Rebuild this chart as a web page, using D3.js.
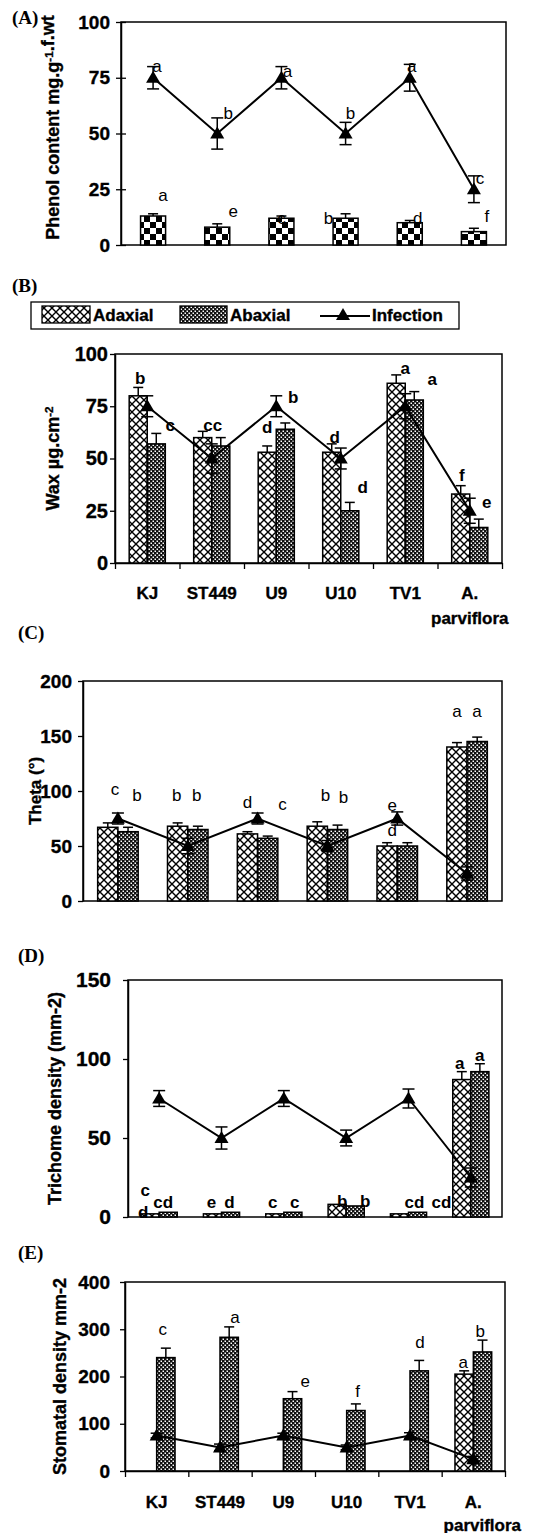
<!DOCTYPE html>
<html><head><meta charset="utf-8">
<script src="https://cdn.jsdelivr.net/npm/d3@7"></script>
<style>
html,body{margin:0;padding:0;background:#fff;}
svg{display:block;}
text.hv{stroke:#000;stroke-width:0.35px;}
</style></head>
<body>
<script>
// ---------- DATA ----------
const categories = ["KJ","ST449","U9","U10","TV1","A. parviflora"];
const infection    = [75,50,75,50,75,25];
const infectionErr = [5,7,5,5,6,6];

const phenol    = [13,8,12,12,10,6];
const phenolErr = [1,1.5,1,2,1,1.5];

const waxAdaxial    = [80,60,53,53,86,33];
const waxAdaxialErr = [4,3,3,4,4,4];
const waxAbaxial    = [57,56,64,25,78,17];
const waxAbaxialErr = [5,4,3,4,4,4];

const thetaAdaxial    = [67,68,61,68,50,140];
const thetaAdaxialErr = [4,3,2,4,3,4];
const thetaAbaxial    = [63,65,57,65,50,145];
const thetaAbaxialErr = [4,3,2,4,3,4];

const trichAdaxial    = [2,2,2,8,2,87];
const trichAdaxialErr = [0,0,0,0,0,5];
const trichAbaxial    = [3,3,3,7,3,92];
const trichAbaxialErr = [0,0,0,0,0,5];

const stomAdaxial    = [null,null,null,null,null,205];
const stomAdaxialErr = [0,0,0,0,0,7];
const stomAbaxial    = [240,283,153,128,212,252];
const stomAbaxialErr = [20,22,15,14,22,25];

const ticksA = [0,25,50,75,100];
const ticksB = [0,25,50,75,100];
const ticksC = [0,50,100,150,200];
const ticksD = [0,50,100,150];
const ticksE = [0,100,200,300,400];

// significance letters
const lettersA_bar  = ["a","e","c","b","d","f"];
const lettersA_bar_at = [22,15,12,12,12,13];
const lettersA_inf  = ["a","b","a","b","a","c"];
const lettersA_inf_at = [80,59,78,59,80,30];

const lettersB_ad = ["b","cc","d","d","a","f"];
const lettersB_ad_at = [88.5,66,65,60,93,42];
const lettersB_ab = ["c","","b","d","a","e"];
const lettersB_ab_at = [66,0,79,36,88,29];

const lettersC_ad = ["c","b","d","b","d","a"];
const lettersC_ad_at = [101,96,90,96,64,172];
const lettersC_ab = ["b","b","c","b","e","a"];
const lettersC_ab_at = [96,96,88,94,87,172];

const lettersD_ad = ["c","e","c","b","cd","a"];
const lettersD_ad_at = [17,9,9,10,9,97];
const lettersD_ad2 = ["d","","","","",""];
const lettersD_ad2_at = [3,0,0,0,0,0];
const lettersD_ab = ["cd","d","c","b","cd","a"];
const lettersD_ab_at = [9,9,9,10,9,102];

const lettersE_ad = ["","","","","","a"];
const lettersE_ad_at = [0,0,0,0,0,230];
const lettersE_ab = ["c","a","e","f","d","b"];
const lettersE_ab_at = [300,325,190,168,273,295];

// ---------- DRAW ----------
const W = 536, H = 1533;
const svg = d3.select("body").append("svg").attr("width",W).attr("height",H)
  .style("font-family","'Liberation Sans', Arial, sans-serif");
svg.append("rect").attr("width",W).attr("height",H).attr("fill","#fff");

const defs = svg.append("defs");
const pAd = defs.append("pattern").attr("id","adax").attr("patternUnits","userSpaceOnUse")
  .attr("width",8).attr("height",8);
pAd.append("rect").attr("width",8).attr("height",8).attr("fill","#fff");
pAd.append("path").attr("d","M0,0L8,8M8,0L0,8").attr("stroke","#000").attr("stroke-width",1.4);
const pAb = defs.append("pattern").attr("id","abax").attr("patternUnits","userSpaceOnUse")
  .attr("width",4).attr("height",4);
pAb.append("rect").attr("width",4).attr("height",4).attr("fill","#111");
pAb.append("rect").attr("x",0.5).attr("y",0.5).attr("width",1.5).attr("height",1.5).attr("fill","#fff");
pAb.append("rect").attr("x",2.5).attr("y",2.5).attr("width",1.5).attr("height",1.5).attr("fill","#fff");
const pPh = defs.append("pattern").attr("id","phen").attr("patternUnits","userSpaceOnUse")
  .attr("width",12).attr("height",12);
pPh.append("rect").attr("width",12).attr("height",12).attr("fill","#fff");
pPh.append("rect").attr("width",6).attr("height",6).attr("fill","#000");
pPh.append("rect").attr("x",6).attr("y",6).attr("width",6).attr("height",6).attr("fill","#000");

const tri = d3.symbol(d3.symbolTriangle).size(85);

function panel(cfg){
  const g = svg.append("g");
  const x = d3.scaleBand().domain(categories).range([cfg.x0,cfg.x1])
    .paddingInner(cfg.pad).paddingOuter(cfg.pad/2);
  const y = d3.scaleLinear().domain([0,cfg.max]).range([cfg.yBot,cfg.yTop]);
  const names = cfg.series.map(s=>s.name);
  const xs = d3.scaleBand().domain(names).range([0,x.bandwidth()]);
  const cx = c => x(c) + x.bandwidth()/2;

  // frame
  g.append("rect").attr("x",cfg.x0).attr("y",cfg.yTop)
    .attr("width",cfg.x1-cfg.x0).attr("height",cfg.yBot-cfg.yTop)
    .attr("fill","none").attr("stroke","#000").attr("stroke-width",1.5);

  // y axis
  const ya = g.append("g").attr("transform",`translate(${cfg.x0},0)`)
    .call(d3.axisLeft(y).tickValues(cfg.ticks).tickSizeOuter(0).tickSizeInner(5).tickPadding(cfg.gap-5));
  ya.select(".domain").attr("stroke-width",1.5);
  ya.selectAll(".tick line").attr("stroke-width",1.3).attr("x2",-5).attr("x1",cfg.cross?5:0);
  ya.selectAll(".tick text").attr("font-size",cfg.tickFont).attr("font-weight","bold").attr("class","hv")
    .attr("fill","#000").attr("font-family","'Liberation Sans', Arial, sans-serif");

  // x axis (boundary ticks)
  if(cfg.xTicks){
    const xb = d3.scaleLinear().domain([0,categories.length]).range([cfg.x0,cfg.x1]);
    const xa = g.append("g").attr("transform",`translate(0,${cfg.yBot})`)
      .call(d3.axisBottom(xb).ticks(categories.length).tickFormat("").tickSizeOuter(0).tickSizeInner(6));
    xa.select(".domain").attr("stroke-width",1.5);
    xa.selectAll(".tick line").attr("stroke-width",1.3);
  }
  if(cfg.catLabels){
    categories.forEach(c=>{
      const parts = c.split(" ");
      g.append("text").attr("class","hv").attr("x",cx(c)).attr("y",cfg.catY).attr("text-anchor","middle")
        .attr("font-size",17).attr("font-weight","bold").attr("dominant-baseline","central").text(parts[0]);
      if(parts[1]) g.append("text").attr("class","hv").attr("x",cx(c)+cfg.parvDx).attr("y",cfg.catY+cfg.parvDy).attr("text-anchor","middle")
        .attr("font-size",17).attr("font-weight","bold").attr("dominant-baseline","central").text(parts[1]);
    });
  }

  // bars
  cfg.series.forEach(s=>{
    const bw = xs.bandwidth();
    categories.forEach((c,i)=>{
      const v = s.vals[i];
      if(v==null) return;
      const bx = x(c)+xs(s.name);
      g.append("rect").attr("x",bx).attr("y",y(v)).attr("width",bw).attr("height",y(0)-y(v))
        .attr("fill",`url(#${s.pat})`).attr("stroke","#000").attr("stroke-width",1.5);
      const e = s.err[i];
      if(e>0){
        const ex = bx+bw/2;
        g.append("line").attr("x1",ex).attr("x2",ex).attr("y1",y(v)).attr("y2",y(v+e))
          .attr("stroke","#000").attr("stroke-width",1.5);
        g.append("line").attr("x1",ex-5).attr("x2",ex+5).attr("y1",y(v+e)).attr("y2",y(v+e))
          .attr("stroke","#000").attr("stroke-width",1.5);
      }
    });
  });

  // infection line
  const line = d3.line().x((d,i)=>cx(categories[i])).y(d=>y(d));
  g.append("path").datum(infection).attr("d",line).attr("fill","none")
    .attr("stroke","#000").attr("stroke-width",2);
  categories.forEach((c,i)=>{
    const v = infection[i], e = infectionErr[i], ex = cx(c);
    g.append("line").attr("x1",ex).attr("x2",ex).attr("y1",y(v-e)).attr("y2",y(v+e))
      .attr("stroke","#000").attr("stroke-width",1.5);
    [v-e,v+e].forEach(t=>g.append("line").attr("x1",ex-6).attr("x2",ex+6).attr("y1",y(t)).attr("y2",y(t))
      .attr("stroke","#000").attr("stroke-width",1.5));
    g.append("path").attr("d",tri).attr("transform",`translate(${ex},${y(v)+1})`).attr("fill","#000");
  });

  // letters
  cfg.letters.forEach(L=>{
    categories.forEach((c,i)=>{
      if(!L.t[i]) return;
      g.append("text").attr("x",cx(c)+L.dx[i]).attr("y",y(L.at[i])).attr("text-anchor","middle")
        .attr("dominant-baseline","central").attr("font-size",L.size||17)
        .attr("font-weight",L.bold?"bold":"normal").text(L.t[i]);
    });
  });

  // y title
  const yt = g.append("text").attr("class","hv").attr("transform",`translate(${cfg.titleX},${(cfg.yTop+cfg.yBot)/2+cfg.titleDy}) rotate(-90)`)
    .attr("text-anchor","middle").attr("font-size",cfg.titleFont).attr("font-weight","bold")
    .attr("dominant-baseline","central");
  cfg.title.forEach(p=>{
    if(p.sup){
      yt.append("tspan").attr("dy","-0.45em").attr("font-size",cfg.titleFont*0.65).text(p.sup);
      yt.append("tspan").attr("dy","0.45em").text("");
    } else yt.append("tspan").text(p.t);
  });

  // panel label
  g.append("text").attr("x",cfg.lx).attr("y",cfg.ly).attr("font-family","'Liberation Serif', 'Times New Roman', serif")
    .attr("font-weight","bold").attr("font-size",19).attr("dominant-baseline","central").text(cfg.label);
}

// Panel A
panel({label:"(A)",lx:12,ly:17,x0:121,x1:506,yTop:22,yBot:245,max:100,ticks:ticksA,gap:11,cross:true,tickFont:19,
  pad:0.61, series:[{name:"Phenol",vals:phenol,err:phenolErr,pat:"phen"}],
  titleX:53,titleDy:-6,titleFont:18,title:[{t:"Phenol content mg.g"},{sup:"-1"},{t:".f.wt"}],
  letters:[{t:lettersA_bar,at:lettersA_bar_at,dx:[10,16,0,-17,8,13]},
           {t:lettersA_inf,at:lettersA_inf_at,dx:[4,11,6,5,2,6]}]});

// Legend
const lg = svg.append("g");
lg.append("rect").attr("x",31).attr("y",302).attr("width",428).attr("height",27)
  .attr("fill","#fff").attr("stroke","#000").attr("stroke-width",1.3);
lg.append("rect").attr("x",42).attr("y",306).attr("width",48).attr("height",17).attr("fill","url(#adax)").attr("stroke","#000").attr("stroke-width",1.3);
lg.append("text").attr("class","hv").attr("x",93).attr("y",315).attr("dominant-baseline","central").attr("font-size",17).attr("font-weight","bold").text("Adaxial");
lg.append("rect").attr("x",180).attr("y",306).attr("width",47).attr("height",17).attr("fill","url(#abax)").attr("stroke","#000").attr("stroke-width",1.3);
lg.append("text").attr("class","hv").attr("x",230).attr("y",315).attr("dominant-baseline","central").attr("font-size",17).attr("font-weight","bold").text("Abaxial");
lg.append("line").attr("x1",320).attr("x2",370).attr("y1",316).attr("y2",316).attr("stroke","#000").attr("stroke-width",2);
lg.append("path").attr("d",tri).attr("transform","translate(343,316)").attr("fill","#000");
lg.append("text").attr("class","hv").attr("x",372).attr("y",315).attr("dominant-baseline","central").attr("font-size",17).attr("font-weight","bold").text("Infection");

// Panel B
panel({label:"(B)",lx:12,ly:285,x0:115,x1:502,yTop:354,yBot:563,max:100,ticks:ticksB,gap:7,tickFont:20,
  pad:0.44, series:[{name:"Adaxial",vals:waxAdaxial,err:waxAdaxialErr,pat:"adax"},
                    {name:"Abaxial",vals:waxAbaxial,err:waxAbaxialErr,pat:"abax"}],
  xTicks:true,catLabels:true,catY:593,parvDx:0,parvDy:25,
  titleX:53,titleDy:0,titleFont:18,title:[{t:"Wax µg.cm"},{sup:"-2"}],
  letters:[{t:lettersB_ad,at:lettersB_ad_at,dx:[-7,1,-9,-6,0,-8],bold:true},
           {t:lettersB_ab,at:lettersB_ab_at,dx:[23,0,17,22,27,17],bold:true}]});

// Panel C
panel({label:"(C)",lx:18,ly:632,x0:83,x1:502,yTop:681,yBot:901,max:200,ticks:ticksC,gap:11,tickFont:19,
  pad:0.42, series:[{name:"Adaxial",vals:thetaAdaxial,err:thetaAdaxialErr,pat:"adax"},
                    {name:"Abaxial",vals:thetaAbaxial,err:thetaAbaxialErr,pat:"abax"}],
  titleX:35,titleDy:0,titleFont:17,title:[{t:"Theta (°)"}],
  letters:[{t:lettersC_ad,at:lettersC_ad_at,dx:[-3,-11,-10,-2,-5,-10]},
           {t:lettersC_ab,at:lettersC_ab_at,dx:[19,9,25,16,-5,10]}]});

// Panel D
panel({label:"(D)",lx:18,ly:955,x0:128,x1:502,yTop:980,yBot:1217,max:150,ticks:ticksD,gap:17,tickFont:21,
  pad:0.42, series:[{name:"Adaxial",vals:trichAdaxial,err:trichAdaxialErr,pat:"adax"},
                    {name:"Abaxial",vals:trichAbaxial,err:trichAbaxialErr,pat:"abax"}],
  titleX:55,titleDy:0,titleFont:18,title:[{t:"Trichome density (mm-2)"}],
  letters:[{t:lettersD_ad,at:lettersD_ad_at,dx:[-14,-10,-11,-4,6,-11],bold:true},
           {t:lettersD_ad2,at:lettersD_ad2_at,dx:[-16,0,0,0,0,0],bold:true},
           {t:lettersD_ab,at:lettersD_ab_at,dx:[4,8,11,19,33,9],bold:true}]});

// Panel E
panel({label:"(E)",lx:18,ly:1252,x0:125,x1:505,yTop:1282,yBot:1471,max:400,ticks:ticksE,gap:15,tickFont:19,
  pad:0.42, series:[{name:"Adaxial",vals:stomAdaxial,err:stomAdaxialErr,pat:"adax"},
                    {name:"Abaxial",vals:stomAbaxial,err:stomAbaxialErr,pat:"abax"}],
  xTicks:true,catLabels:true,catY:1502,parvDx:9,parvDy:23,
  titleX:60,titleDy:0,titleFont:18,title:[{t:"Stomatal density mm-2"}],
  letters:[{t:lettersE_ad,at:lettersE_ad_at,dx:[0,0,0,0,0,-10]},
           {t:lettersE_ab,at:lettersE_ab_at,dx:[6,15,22,11,10,7]}]});
</script>
</body></html>
